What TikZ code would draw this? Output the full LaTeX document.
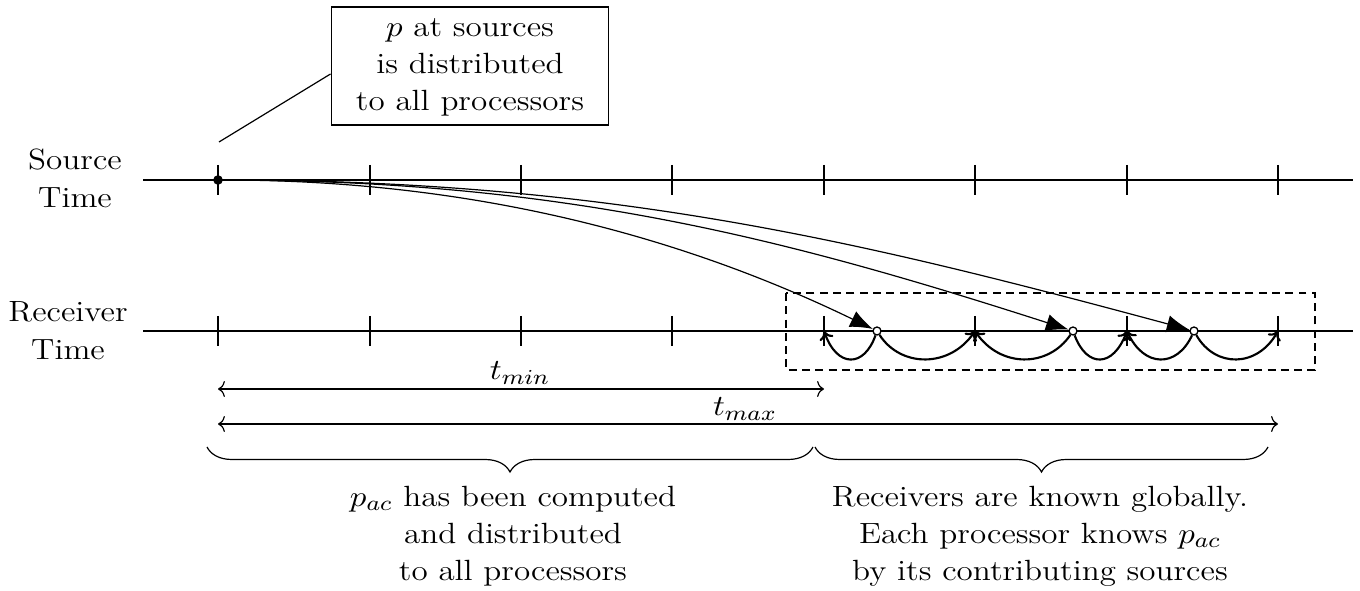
\documentclass[tikz,border=0pt]{standalone}
\usepackage{fontspec}
\usetikzlibrary{arrows.meta,decorations.pathreplacing}
\newcommand{\wide}[1]{\scalebox{1.13}[1]{#1}}
\newcommand{\stacktext}[1]{\wide{\begin{tabular}{@{}c@{}}#1\end{tabular}}}
\tikzset{
  axis/.style={line width=0.45pt},
  tickmark/.style={line width=0.45pt},
  txt/.style={inner sep=0pt, font=\fontsize{11}{14}\selectfont},
  flow/.style={line width=0.45pt, -{Latex[length=8.5pt,width=6.5pt]}},
  hop/.style={line width=0.8pt, -{To[length=3.2pt,width=5.5pt]}},
  recv/.style={circle, draw, fill=white, inner sep=0pt, minimum size=3pt, line width=0.5pt},
  span/.style={line width=0.45pt, {To[length=2.6pt,width=6pt]}-{To[length=2.6pt,width=6pt]}},
  bracestyle/.style={line width=0.45pt, decorate, decoration={brace, mirror, amplitude=9.4pt}},
  callout/.style={draw, line width=0.45pt, inner sep=0pt, minimum width=3.67cm, minimum height=1.56cm, font=\fontsize{11}{13.9}\selectfont}
}
\begin{document}
\begin{tikzpicture}[x=0.013210cm, y=-0.013210cm]
\path[use as bounding box] (0,0) rectangle (1360,591);

% labels
\node[txt] (srclbl) at (75,181) {\stacktext{Source\\Time}};
\node[txt] (rcvlbl) at (68,333) {\stacktext{Receiver\\Time}};

% time axes
\coordinate (sL) at (143,180); \coordinate (sR) at (1353,180);
\coordinate (rL) at (143,331); \coordinate (rR) at (1353,331);
\draw[axis] (sL) -- (sR);
\draw[axis] (rL) -- (rR);
\foreach \i/\x in {0/218,1/370,2/521,3/672,4/824,5/975,6/1127,7/1278} {
  \coordinate (s\i) at (\x,180);
  \coordinate (r\i) at (\x,331);
  \draw[tickmark] (\x,165) -- (\x,195);
  \draw[tickmark] (\x,316) -- (\x,346);
}

% dashed window
\draw[dash pattern=on 3pt off 2pt, line width=0.45pt] (786,293) rectangle (1315,370);

% source dot and callout
\node[circle, fill=black, inner sep=0pt, minimum size=3.6pt] (src) at (218,180) {};
\node[callout] (box) at (470,66) {\stacktext{$p$ at sources\\is distributed\\to all processors}};
\coordinate (cA) at (219,142);
\draw[line width=0.45pt] (cA) -- ([yshift=-3pt]box.west);

% receiver points
\node[recv] (e1) at (877,331) {};
\node[recv] (e2) at (1073,331) {};
\node[recv] (e3) at (1194,331) {};

% propagation curves
\draw[flow] (src) .. controls (468,180) and (677,234) .. (e1);
\draw[flow] (src) .. controls (568,180) and (793,241) .. (e2);
\draw[flow] (src) .. controls (618,180) and (874,245) .. (e3);

% local hops
\draw[hop] (e1) .. controls (864,368) and (837,368) .. (r4);
\draw[hop] (e1) .. controls (901,368) and (950,368) .. (r5);
\draw[hop] (e2) .. controls (1048,368) and (1000,368) .. (r5);
\draw[hop] (e2) .. controls (1087,368) and (1113,368) .. (r6);
\draw[hop] (e3) .. controls (1177,368) and (1144,368) .. (r6);
\draw[hop] (e3) .. controls (1215,368) and (1257,368) .. (r7);

% spans
\coordinate (tminA) at (218,389); \coordinate (tminB) at (824,389);
\coordinate (tmaxA) at (218,424); \coordinate (tmaxB) at (1278,424);
\draw[span] (tminA) -- (tminB);
\draw[span] (tmaxA) -- (tmaxB);
\node[txt] (tminlbl) at (520,373) {\wide{$t_{min}$}};
\node[txt] (tmaxlbl) at (745,409) {\wide{$t_{max}$}};

% braces
\coordinate (b1A) at (207,447); \coordinate (b1B) at (813,447);
\coordinate (b2A) at (815,447); \coordinate (b2B) at (1268,447);
\draw[bracestyle] (b1A) -- (b1B);
\draw[bracestyle] (b2A) -- (b2B);

\node[txt] (leftnote) at (513,536) {\stacktext{$p_{ac}$ has been computed\\and distributed\\to all processors}};
\node[txt] (rightnote) at (1040,536) {\stacktext{Receivers are known globally.\\Each processor knows $p_{ac}$\\by its contributing sources}};
\end{tikzpicture}
\end{document}
